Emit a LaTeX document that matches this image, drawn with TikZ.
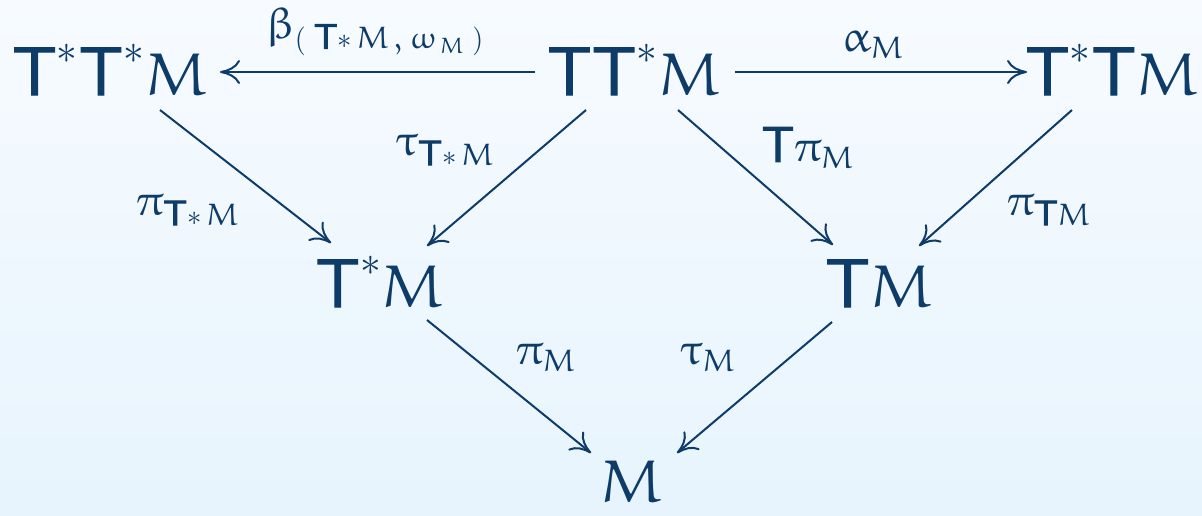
\documentclass[tikz,border=0pt]{standalone}
\usepackage{amsmath}
\usepackage{graphicx}
\DeclareSymbolFont{letters}{U}{eur}{m}{n}
\SetSymbolFont{letters}{bold}{U}{eur}{b}{n}
\usetikzlibrary{arrows.meta}
\definecolor{ink}{RGB}{14,60,104}
\definecolor{bgtop}{RGB}{247,251,255}
\definecolor{bgbot}{RGB}{231,244,253}
\newcommand{\Tt}{\text{\special{pdf:literal direct 2 Tr 0.45 w}\scalebox{1.16}[1.14]{\sffamily T}\special{pdf:literal direct 0 Tr}}}
\begin{document}
\begin{tikzpicture}[x=0.5pt,y=-0.5pt,
  obj/.style={anchor=base,inner sep=0pt,text=ink,font=\fontsize{30}{36}\selectfont},
  lab/.style={inner sep=0pt,text=ink,font=\fontsize{22}{26}\selectfont},
  arr/.style={draw=ink,line width=1pt,-{To[length=10pt,width=12pt]}}]
\shade[top color=bgtop,bottom color=bgbot] (0,0) rectangle (1202,515);
\useasboundingbox (0,0) rectangle (1202,515);
\node[obj] (TsTsM) at (110,95) {$\Tt^*\Tt^*M$};
\node[obj] (TTsM) at (634,95) {$\Tt\Tt^*M$};
\node[obj] (TsTM) at (1112,95) {$\Tt^*\Tt M$};
\node[obj] (TsM) at (380,307) {$\Tt^*M$};
\node[obj] (TM) at (879,307) {$\Tt M$};
\node[obj] (M) at (632,502) {$M$};
\coordinate (a1) at (535,72); \coordinate (b1) at (220,72);
\coordinate (a2) at (735,72); \coordinate (b2) at (1027,72);
\coordinate (a3) at (160,110); \coordinate (b3) at (331,243);
\coordinate (a4) at (586,110); \coordinate (b4) at (427,246);
\coordinate (a5) at (678,110); \coordinate (b5) at (833,245);
\coordinate (a6) at (1072,110); \coordinate (b6) at (919,246);
\coordinate (a7) at (427,320); \coordinate (b7) at (591,453);
\coordinate (a8) at (832,322); \coordinate (b8) at (677,453);
\draw[arr] (a1) -- (b1);
\draw[arr] (a2) -- (b2);
\draw[arr] (a3) -- (b3);
\draw[arr] (a4) -- (b4);
\draw[arr] (a5) -- (b5);
\draw[arr] (a6) -- (b6);
\draw[arr] (a7) -- (b7);
\draw[arr] (a8) -- (b8);
\node[lab] (lbeta) at (375,32) {$\beta_{(\;\Tt{*}\,M\,,\;\omega_{\,M}\;)}$};
\node[lab] (lalpha) at (873,45) {$\alpha_M$};
\node[lab] (ltau1) at (445,150) {$\tau_{\Tt{*}\,M}$};
\node[lab] (lTpi) at (808,148) {$\Tt\pi_M$};
\node[lab] (lpi1) at (188,210) {$\pi_{\Tt{*}\,M}$};
\node[lab] (lpi2) at (1049,210) {$\pi_{\Tt M}$};
\node[lab] (lpiM) at (546,358) {$\pi_M$};
\node[lab] (ltauM) at (708,358) {$\tau_M$};
\end{tikzpicture}
\end{document}
